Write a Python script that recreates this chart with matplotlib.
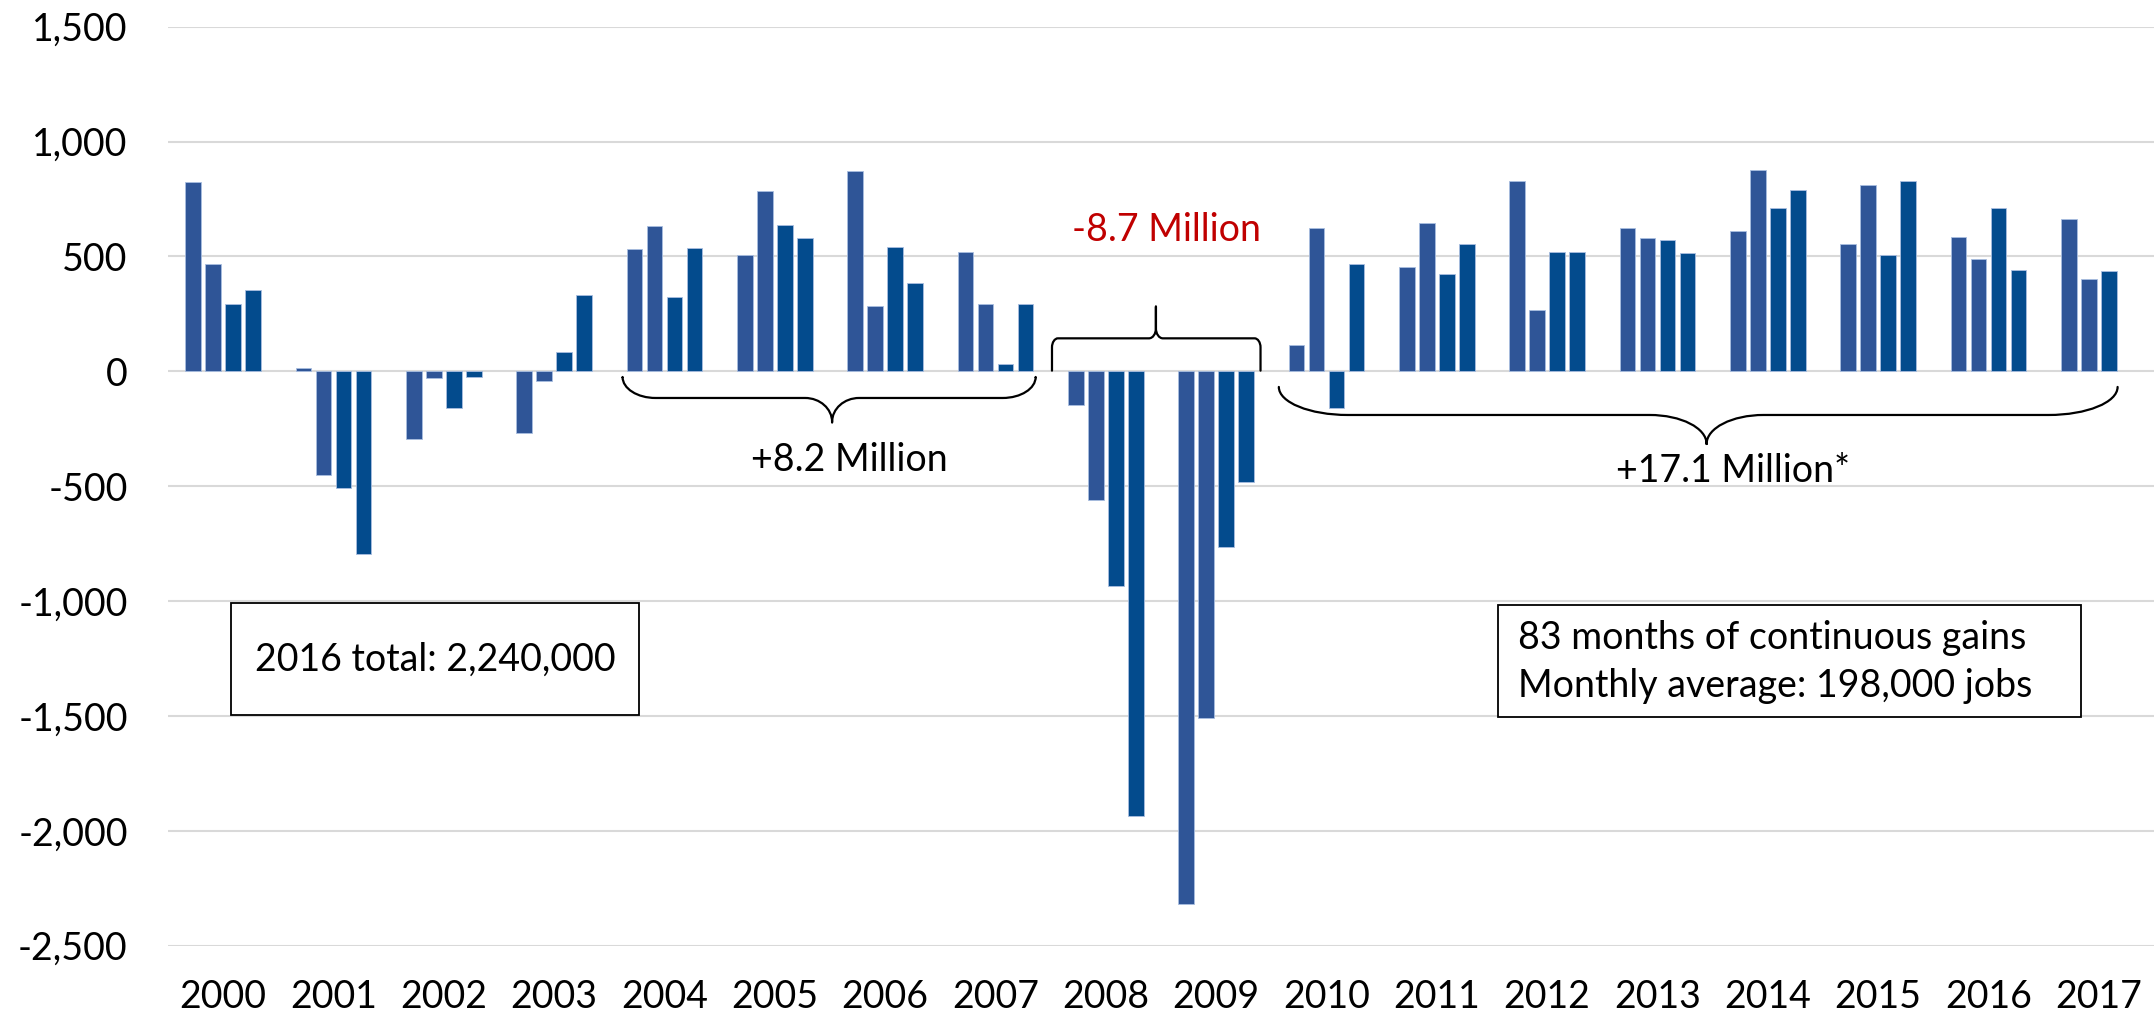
import numpy as np
import matplotlib
matplotlib.use('Agg')
import matplotlib.pyplot as plt
from matplotlib.path import Path
from matplotlib.patches import PathPatch, Rectangle
from matplotlib.ticker import FuncFormatter, MultipleLocator

plt.rcParams['font.family'] = ['Lato', 'DejaVu Sans']

# quarterly job change (thousands)
years = ['2000', '2001', '2002', '2003', '2004', '2005', '2006', '2007', '2008',
         '2009', '2010', '2011', '2012', '2013', '2014', '2015', '2016', '2017']
q1 = [823, 16, -295, -267, 534, 507, 873, 518, -146, -2320, 116, 453, 828, 624, 609, 556, 583, 663]
q2 = [467, -450, -30, -43, 632, 783, 285, 293, -559, -1510, 626, 646, 267, 582, 877, 810, 489, 400]
q3 = [293, -510, -161, 83, 324, 635, 540, 31, -933, -766, -158, 425, 521, 570, 710, 508, 711, 435]
q4 = [353, -793, -25, 332, 537, 579, 385, 292, -1935, -483, 465, 556, 521, 514, 790, 829, 440, np.nan]
quarters = [q1, q2, q3, q4]
colors = ['#2F5597', '#2F5597', '#034B8D', '#034B8D']

W, H = 2154, 1021
fig = plt.figure(figsize=(W / 100, H / 100), dpi=100)
# plot area in pixels: left 168, right 2154, top 26.7, bottom 945.7
ax = fig.add_axes([168 / W, 1 - 945.7 / H, (2154 - 168) / W, (945.7 - 26.7) / H])

x = np.arange(len(years))
pitch = 0.181
for i, vals in enumerate(quarters):
    ax.bar(x + (i - 1.5) * pitch, vals, width=0.142, color=colors[i],
           edgecolor='#A9BEE0', linewidth=0.6, zorder=3)

ax.set_xlim(-0.5, len(years) - 0.5)
ax.set_ylim(-2500, 1500)
ax.yaxis.set_major_locator(MultipleLocator(500))
ax.yaxis.set_major_formatter(FuncFormatter(lambda v, p: '{:,.0f}'.format(v)))
ax.set_xticks(x)
ax.set_xticklabels(years)
ax.grid(axis='y', color='#D9D9D9', linewidth=1.5, zorder=0)
ax.set_axisbelow(True)
for s in ax.spines.values():
    s.set_visible(False)
ax.tick_params(axis='both', length=0, labelsize=27, colors='black')
ax.tick_params(axis='y', pad=29)
ax.tick_params(axis='x', pad=24)

# pixel -> data scale
px_x = (2154 - 168) / len(years)
px_y = (945.7 - 26.7) / 4000.0


def brace(x0, x1, xm, y_end, y_line, y_tip, rxe, rye, rxt, ryt):
    # radii given in pixels
    k = 0.552
    s = np.sign(y_tip - y_line)
    rxe, rxt = rxe / px_x, rxt / px_x
    rye, ryt = rye / px_y, ryt / px_y
    v = [(x0, y_end), (x0, y_line - s * rye),
         (x0, y_line - s * rye * (1 - k)), (x0 + rxe * (1 - k), y_line), (x0 + rxe, y_line),
         (xm - rxt, y_line),
         (xm - rxt * (1 - k), y_line), (xm, y_line + s * ryt * (1 - k)), (xm, y_line + s * ryt),
         (xm, y_tip), (xm, y_line + s * ryt),
         (xm, y_line + s * ryt * (1 - k)), (xm + rxt * (1 - k), y_line), (xm + rxt, y_line),
         (x1 - rxe, y_line),
         (x1 - rxe * (1 - k), y_line), (x1, y_line - s * rye * (1 - k)), (x1, y_line - s * rye),
         (x1, y_end)]
    c = [Path.MOVETO, Path.LINETO,
         Path.CURVE4, Path.CURVE4, Path.CURVE4,
         Path.LINETO,
         Path.CURVE4, Path.CURVE4, Path.CURVE4,
         Path.LINETO, Path.LINETO,
         Path.CURVE4, Path.CURVE4, Path.CURVE4,
         Path.LINETO,
         Path.CURVE4, Path.CURVE4, Path.CURVE4,
         Path.LINETO]
    ax.add_patch(PathPatch(Path(v, c), facecolor='none', edgecolor='black',
                           linewidth=1.6, capstyle='round', joinstyle='round', zorder=4))


brace(3.62, 7.364, 5.519, -26, -116, -222, 33, 21, 27, 24)
brace(7.512, 9.402, 8.454, 3, 143.6, 281.6, 6, 9, 7, 10)
brace(9.568, 17.17, 13.445, -68, -190, -316, 69, 28, 57, 29)

ax.text(5.672, -435, '+8.2 Million', fontsize=27, ha='center', va='baseline')
ax.text(8.548, 569, '-8.7 Million', fontsize=27, ha='center', va='baseline', color='#C00000')
ax.text(13.68, -483, '+17.1 Million*', fontsize=27, ha='center', va='baseline')

# text boxes (axes fraction)
ax.add_patch(Rectangle((0.0317, 0.251), 0.2055, 0.122, transform=ax.transAxes,
                       facecolor='white', edgecolor='black', linewidth=1.3, zorder=5))
ax.text(0.1344, 0.2992, '2016 total: 2,240,000', transform=ax.transAxes, fontsize=27,
        ha='center', va='baseline', zorder=6)

ax.add_patch(Rectangle((0.6697, 0.2489), 0.2935, 0.1218, transform=ax.transAxes,
                       facecolor='white', edgecolor='black', linewidth=1.3, zorder=5))
ax.text(0.6798, 0.3229, '83 months of continuous gains', transform=ax.transAxes, fontsize=27,
        ha='left', va='baseline', zorder=6)
ax.text(0.6798, 0.2706, 'Monthly average: 198,000 jobs', transform=ax.transAxes, fontsize=27,
        ha='left', va='baseline', zorder=6)

fig.savefig('out.png', dpi=100)
